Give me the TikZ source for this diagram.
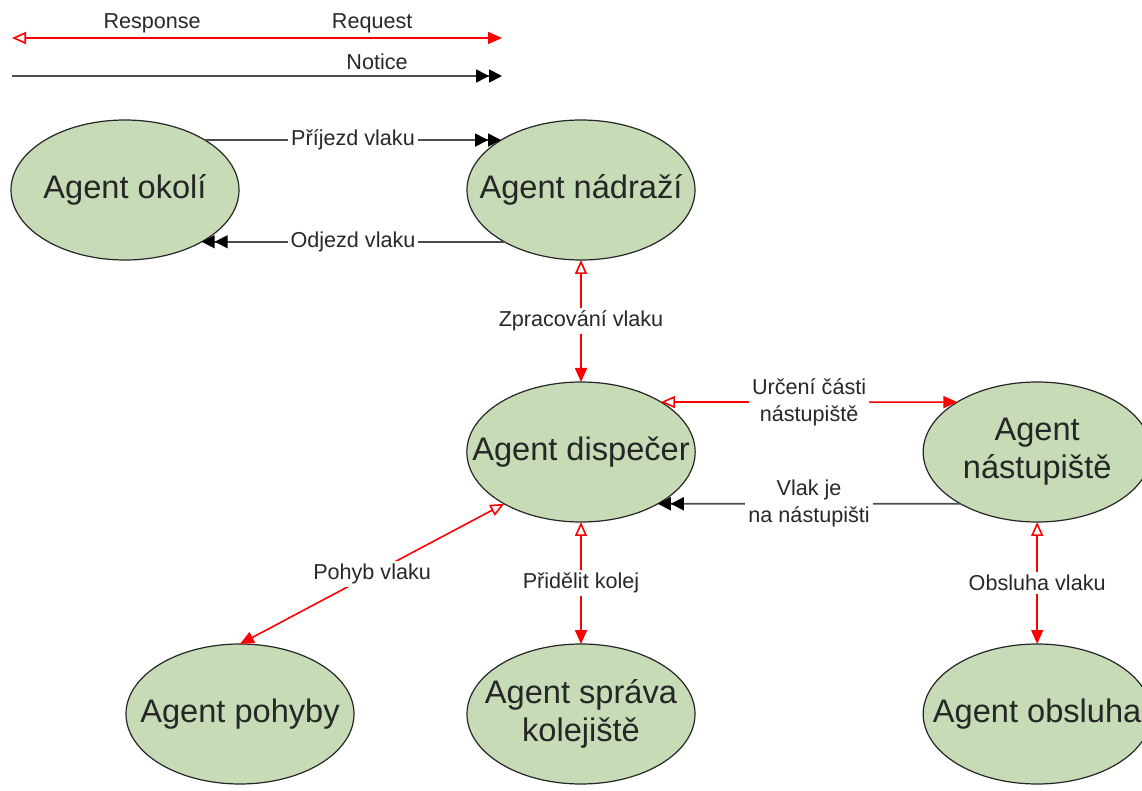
\documentclass[tikz,border=0pt]{standalone}
\usepackage{fontspec}
\setmainfont{Liberation Sans}
\usepackage{xcolor}
\usetikzlibrary{arrows.meta,positioning,shapes.geometric}

\definecolor{agentfill}{RGB}{198,219,182}
\definecolor{lbltext}{RGB}{40,40,40}

\begin{document}
\begin{tikzpicture}[x=0.5pt,y=-0.5pt,node distance=61pt and 114pt,
  agent/.style={ellipse,draw=black!85,line width=0.6pt,fill=agentfill,minimum width=114pt,minimum height=70pt,
    inner xsep=-14pt,inner ysep=0pt,outer sep=0pt,align=center,font=\fontsize{16.3}{19}\selectfont,text=black!85},
  lbl/.style={fill=white,inner sep=1.5pt,align=center,font=\fontsize{10.8}{13.5}\selectfont,text=lbltext},
  reqres/.style={draw=red,line width=0.8pt,
    {Triangle[open,length=7pt,width=6pt]}-{Triangle[length=7pt,width=6pt]}},
  notice/.style={draw=black!70,line width=0.9pt,
    -{Triangle[length=6.5pt,width=6.5pt,color=black]Triangle[length=6.5pt,width=6.5pt,color=black]}}]
\useasboundingbox (0,0) rectangle (1142,791);

% legend
\coordinate (lga) at (12,38);
\coordinate (lgb) at (502,38);
\coordinate (lgc) at (12,76);
\coordinate (lgd) at (502,76);
\draw[reqres] (lga) -- node[pos=0.286,above=0.5pt,lbl,fill=none] {Response}
  node[pos=0.735,above=0.5pt,lbl,fill=none] {Request} (lgb);
\draw[notice] (lgc) -- node[pos=0.745,above=1pt,lbl,fill=none] {Notice} (lgd);

% agents
\node[agent] (okoli) at (125,190) {Agent okolí};
\node[agent,right=of okoli] (nadrazi) {Agent nádraží};
\node[agent,below=of nadrazi] (dispecer) {Agent dispečer};
\node[agent,right=of dispecer] (nastupiste) {Agent\\nástupiště};
\node[agent,below=of dispecer] (sprava) {Agent správa\\kolejiště};
\node[agent,left=56.5pt of sprava] (pohyby) {Agent pohyby};
\node[agent,below=of nastupiste] (obsluha) {Agent obsluha};

% messages
\draw[notice] (okoli.32) -- node[lbl] {Příjezd vlaku} (nadrazi.148);
\draw[notice] (nadrazi.214) -- node[lbl] {Odjezd vlaku} (okoli.-34);
\draw[reqres] (nadrazi) -- node[lbl] {Zpracování vlaku} (dispecer);
\draw[reqres] (dispecer.32) -- node[lbl] {Určení části\\nástupiště} (nastupiste.148);
\draw[notice] (nastupiste.214) -- node[lbl] {Vlak je\\na nástupišti} (dispecer.-34);
\draw[reqres] (dispecer.214) -- node[lbl] {Pohyb vlaku} (pohyby.north);
\draw[reqres] (dispecer) -- node[lbl] {Přidělit kolej} (sprava);
\draw[reqres] (nastupiste) -- node[lbl] {Obsluha vlaku} (obsluha);
\end{tikzpicture}
\end{document}
